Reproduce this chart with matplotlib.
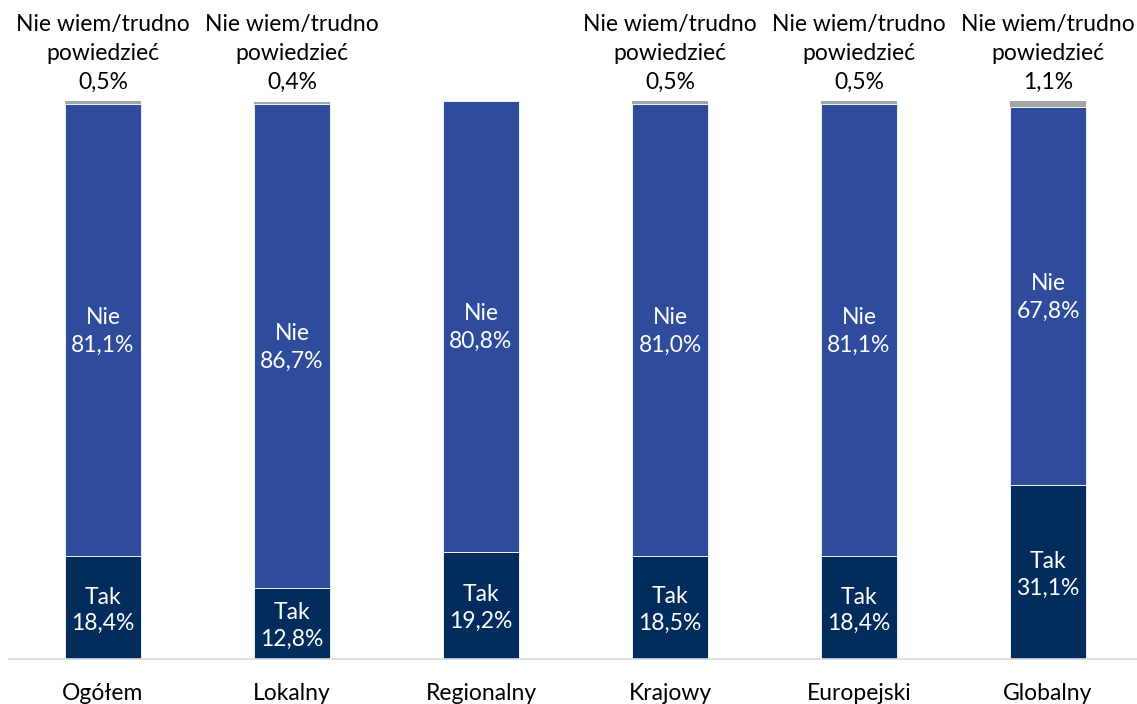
import matplotlib
matplotlib.use("Agg")
import matplotlib.pyplot as plt
import numpy as np

categories = ["Ogółem", "Lokalny", "Regionalny", "Krajowy", "Europejski", "Globalny"]
tak = [18.4, 12.8, 19.2, 18.5, 18.4, 31.1]
nie = [81.1, 86.7, 80.8, 81.0, 81.1, 67.8]
nie_wiem = [0.5, 0.4, 0.0, 0.5, 0.5, 1.1]

c_tak = "#022C5C"
c_nie = "#2F4B9B"
c_nw = "#A5A5A5"

plt.rcParams['font.family'] = ['Lato', 'DejaVu Sans']

W, H = 1137, 704
fig = plt.figure(figsize=(W / 100, H / 100), dpi=100)
left_px, right_px = 8.5, 1142.5
bottom_px, top_px = 659, 101
ax = fig.add_axes([left_px / W, (H - bottom_px) / H, (right_px - left_px) / W, (bottom_px - top_px) / H])

x = np.arange(len(categories))
width = 0.40
tak_a = np.array(tak)
nie_a = np.array(nie)
nw_a = np.array(nie_wiem)

ax.bar(x, tak_a, width, color=c_tak, edgecolor="white", linewidth=0.6)
ax.bar(x, nie_a, width, bottom=tak_a, color=c_nie, edgecolor="white", linewidth=0.6)
ax.bar(x, nw_a, width, bottom=tak_a + nie_a, color=c_nw, linewidth=0)

fs = 16.5
def fmt(v):
    return f"{v:.1f}".replace(".", ",") + "%"

for i in range(len(categories)):
    ax.annotate("Tak\n" + fmt(tak_a[i]), xy=(x[i], tak_a[i] / 2), xytext=(0, -2),
                textcoords="offset points", ha="center", va="center",
                color="white", fontsize=fs, linespacing=1.32)
    ax.annotate("Nie\n" + fmt(nie_a[i]), xy=(x[i], tak_a[i] + nie_a[i] / 2), xytext=(0, -1),
                textcoords="offset points", ha="center", va="center",
                color="white", fontsize=fs, linespacing=1.4)
    if nw_a[i] > 0:
        ax.annotate("Nie wiem/trudno\npowiedzieć\n" + fmt(nw_a[i]),
                    xy=(x[i], 100), xytext=(0, 6), textcoords="offset points",
                    ha="center", va="bottom", fontsize=fs, color="#000000",
                    linespacing=1.46, annotation_clip=False)

ax.set_xlim(-0.5, 5.5)
ax.set_ylim(0, 100)
ax.set_yticks([])
ax.set_xticks(x)
ax.set_xticklabels(categories, fontsize=fs)
ax.tick_params(axis="x", length=0, pad=17)
for s in ["top", "right", "left"]:
    ax.spines[s].set_visible(False)
ax.spines["bottom"].set_color("#D9D9D9")
ax.spines["bottom"].set_linewidth(1.2)

fig.savefig("out.png", dpi=100)
